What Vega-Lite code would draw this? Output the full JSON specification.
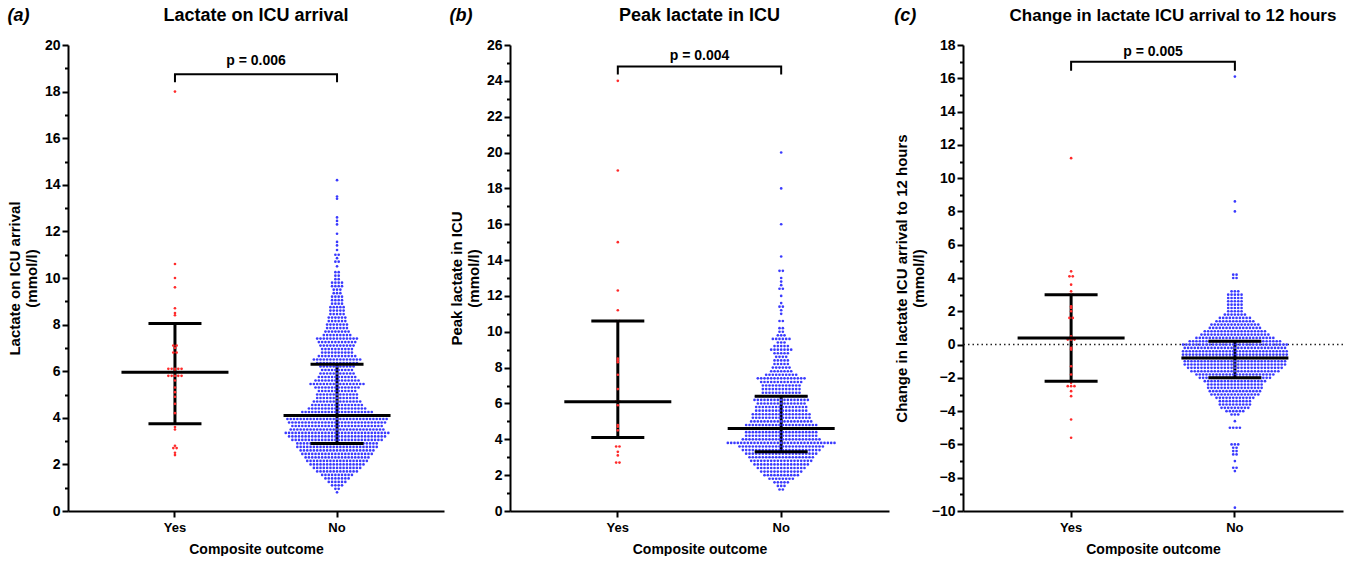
{
"$schema": "https://vega.github.io/schema/vega-lite/v6.json",
"padding": {"left": 7, "top": 7, "right": 0, "bottom": 0},
"spacing": 5,
"config": {
 "font": "Liberation Sans",
 "view": {"stroke": null},
 "axis": {"domainColor": "black", "domainWidth": 2, "tickColor": "black", "tickWidth": 2, "labelColor": "black", "labelFont": "Liberation Sans", "labelFontWeight": "bold", "labelOverlap": false, "titleFont": "Liberation Sans", "titleFontSize": 15, "titleFontWeight": "bold", "titleColor": "black", "grid": false},
 "axisX": {"labelFontSize": 13},
 "axisY": {"labelFontSize": 14},
 "tick": {"opacity": 1},
 "title": {"font": "Liberation Sans", "fontSize": 18, "fontWeight": "bold", "color": "black"}
},
"datasets": {
 "aYes": [18,10.6,10,9.6,8.7,8.5,8.4,7.1,7.1,7,6.8,6.8,6.1,6.1,6.1,6.1,6.1,6,5.8,5.8,5.8,5.8,5.8,5.6,5.3,5.1,4.9,4.6,4.2,3.6,3.5,2.8,2.7,2.7,2.5,2.4],
 "aNo": [0.8,
0.95,0.95,
1.1,1.1,1.1,1.1,
1.25,1.25,1.25,1.25,1.25, 1.25,
1.4,1.4,1.4,1.4,1.4, 1.4,1.4,1.4,
1.55,1.55,1.55,1.55,1.55, 1.55,1.55,1.55,1.55,1.55,
1.7,1.7,1.7,1.7,1.7, 1.7,1.7,1.7,1.7,1.7, 1.7,1.7,1.7,
1.85,1.85,1.85,1.85,1.85, 1.85,1.85,1.85,1.85,1.85, 1.85,1.85,1.85,1.85,1.85,
2,2,2,2,2, 2,2,2,2,2, 2,2,2,2,2, 2,2,
2.15,2.15,2.15,2.15,2.15, 2.15,2.15,2.15,2.15,2.15, 2.15,2.15,2.15,2.15,2.15, 2.15,2.15,2.15,2.15,
2.3,2.3,2.3,2.3,2.3, 2.3,2.3,2.3,2.3,2.3, 2.3,2.3,2.3,2.3,2.3, 2.3,2.3,2.3,2.3,2.3,
2.45,2.45,2.45,2.45,2.45, 2.45,2.45,2.45,2.45,2.45, 2.45,2.45,2.45,2.45,2.45, 2.45,2.45,2.45,2.45,2.45, 2.45,2.45,
2.6,2.6,2.6,2.6,2.6, 2.6,2.6,2.6,2.6,2.6, 2.6,2.6,2.6,2.6,2.6, 2.6,2.6,2.6,2.6,2.6, 2.6,2.6,2.6,
2.75,2.75,2.75,2.75,2.75, 2.75,2.75,2.75,2.75,2.75, 2.75,2.75,2.75,2.75,2.75, 2.75,2.75,2.75,2.75,2.75, 2.75,2.75,2.75,2.75,2.75,
2.9,2.9,2.9,2.9,2.9, 2.9,2.9,2.9,2.9,2.9, 2.9,2.9,2.9,2.9,2.9, 2.9,2.9,2.9,2.9,2.9, 2.9,2.9,2.9,2.9,2.9,
3.05,3.05,3.05,3.05,3.05, 3.05,3.05,3.05,3.05,3.05, 3.05,3.05,3.05,3.05,3.05, 3.05,3.05,3.05,3.05,3.05, 3.05,3.05,3.05,3.05,3.05, 3.05,3.05,3.05,
3.2,3.2,3.2,3.2,3.2, 3.2,3.2,3.2,3.2,3.2, 3.2,3.2,3.2,3.2,3.2, 3.2,3.2,3.2,3.2,3.2, 3.2,3.2,3.2,3.2,3.2, 3.2,3.2,3.2,3.2,3.2,
3.35,3.35,3.35,3.35,3.35, 3.35,3.35,3.35,3.35,3.35, 3.35,3.35,3.35,3.35,3.35, 3.35,3.35,3.35,3.35,3.35, 3.35,3.35,3.35,3.35,3.35, 3.35,3.35,3.35,3.35,3.35, 3.35,3.35,
3.5,3.5,3.5,3.5,3.5, 3.5,3.5,3.5,3.5,3.5, 3.5,3.5,3.5,3.5,3.5, 3.5,3.5,3.5,3.5,3.5, 3.5,3.5,3.5,3.5,3.5, 3.5,3.5,3.5,3.5,
3.65,3.65,3.65,3.65,3.65, 3.65,3.65,3.65,3.65,3.65, 3.65,3.65,3.65,3.65,3.65, 3.65,3.65,3.65,3.65,3.65, 3.65,3.65,3.65,3.65,3.65, 3.65,3.65,3.65,
3.8,3.8,3.8,3.8,3.8, 3.8,3.8,3.8,3.8,3.8, 3.8,3.8,3.8,3.8,3.8, 3.8,3.8,3.8,3.8,3.8, 3.8,3.8,3.8,3.8,3.8, 3.8,3.8,3.8,3.8,3.8,
3.95,3.95,3.95,3.95,3.95, 3.95,3.95,3.95,3.95,3.95, 3.95,3.95,3.95,3.95,3.95, 3.95,3.95,3.95,3.95,3.95, 3.95,3.95,3.95,3.95,3.95, 3.95,3.95,3.95,3.95,3.95, 3.95,
4.1,4.1,4.1,4.1,4.1, 4.1,4.1,4.1,4.1,4.1, 4.1,4.1,4.1,4.1,4.1, 4.1,4.1,4.1,4.1,4.1, 4.1,4.1,4.1,4.1,4.1, 4.1,
4.25,4.25,4.25,4.25,4.25, 4.25,4.25,4.25,4.25,4.25, 4.25,4.25,4.25,4.25,4.25, 4.25,4.25,4.25,4.25,4.25, 4.25,4.25,
4.4,4.4,4.4,4.4,4.4, 4.4,4.4,4.4,4.4,4.4, 4.4,4.4,4.4,4.4,4.4, 4.4,4.4,4.4,
4.55,4.55,4.55,4.55,4.55, 4.55,4.55,4.55,4.55,4.55, 4.55,4.55,4.55,4.55,4.55, 4.55,
4.7,4.7,4.7,4.7,4.7, 4.7,4.7,4.7,4.7,4.7, 4.7,4.7,4.7,4.7,4.7,
4.85,4.85,4.85,4.85,4.85, 4.85,4.85,4.85,4.85,4.85, 4.85,4.85,4.85,
5,5,5,5,5, 5,5,5,5,5, 5,5,5,
5.15,5.15,5.15,5.15,5.15, 5.15,5.15,5.15,5.15,5.15, 5.15,5.15,
5.3,5.3,5.3,5.3,5.3, 5.3,5.3,5.3,5.3,5.3, 5.3,5.3,5.3,5.3,
5.45,5.45,5.45,5.45,5.45, 5.45,5.45,5.45,5.45,5.45, 5.45,5.45,5.45,5.45,5.45, 5.45,5.45,
5.6,5.6,5.6,5.6,5.6, 5.6,5.6,5.6,5.6,5.6, 5.6,5.6,5.6,5.6,
5.75,5.75,5.75,5.75,5.75, 5.75,5.75,5.75,5.75,5.75, 5.75,5.75,
5.9,5.9,5.9,5.9,5.9, 5.9,5.9,5.9,5.9,5.9, 5.9,
6.05,6.05,6.05,6.05,6.05, 6.05,6.05,6.05,6.05,6.05,
6.2,6.2,6.2,6.2,6.2, 6.2,6.2,6.2,6.2,6.2, 6.2,
6.35,6.35,6.35,6.35,6.35, 6.35,6.35,6.35,6.35,6.35, 6.35,6.35,6.35,
6.5,6.5,6.5,6.5,6.5, 6.5,6.5,6.5,6.5,6.5, 6.5,6.5,6.5,6.5,6.5,
6.65,6.65,6.65,6.65,6.65, 6.65,6.65,6.65,6.65,6.65, 6.65,6.65,
6.8,6.8,6.8,6.8,6.8, 6.8,6.8,6.8,6.8,6.8,
6.95,6.95,6.95,6.95,6.95, 6.95,6.95,6.95,6.95,6.95,
7.1,7.1,7.1,7.1,7.1, 7.1,7.1,7.1,7.1,7.1, 7.1,
7.25,7.25,7.25,7.25,7.25, 7.25,7.25,7.25,7.25,7.25, 7.25,7.25,
7.4,7.4,7.4,7.4,7.4, 7.4,7.4,7.4,7.4,7.4, 7.4,7.4,7.4,
7.55,7.55,7.55,7.55,7.55, 7.55,7.55,7.55,7.55,
7.7,7.7,7.7,7.7,7.7, 7.7,7.7,7.7,
7.85,7.85,7.85,7.85,7.85, 7.85,7.85,
8,8,8,8,8, 8,8,
8.15,8.15,8.15,8.15,8.15, 8.15,
8.3,8.3,8.3,8.3,8.3, 8.3,
8.45,8.45,8.45,8.45,8.45,
8.6,8.6,8.6,8.6,8.6,
8.75,8.75,8.75,8.75,8.75,
8.9,8.9,8.9,8.9,
9.05,9.05,9.05,9.05,
9.2,9.2,9.2,9.2,
9.35,9.35,9.35,
9.5,9.5,9.5,
9.65,9.65,9.65,9.65,
9.8,9.8,9.8,9.8,
9.95,9.95,
10.1,10.1,
10.25,10.25,
10.5,10.7,10.7,10.85,11,11,11.2,11.4,11.55,11.9,12.3,12.45,12.6,13.4,13.5,14.2],
 "bYes": [24,19,15,12.3,11.2,10.6,10.6,8.5,8.4,8.3,7.6,6.8,6.1,6.1,5.9,4.8,4.7,4.5,3.6,3.6,3.3,3.1,2.7,2.7],
 "bNo": [1.2,1.2,
1.4,1.4,1.4,
1.6,1.6,1.6,1.6,1.6,
1.8,1.8,1.8,1.8,1.8, 1.8,1.8,1.8,
2,2,2,2,2, 2,2,2,2,2, 2,
2.2,2.2,2.2,2.2,2.2, 2.2,2.2,2.2,2.2,2.2, 2.2,2.2,2.2,
2.4,2.4,2.4,2.4,2.4, 2.4,2.4,2.4,2.4,2.4, 2.4,2.4,2.4,2.4,2.4,
2.6,2.6,2.6,2.6,2.6, 2.6,2.6,2.6,2.6,2.6, 2.6,2.6,2.6,2.6,2.6, 2.6,2.6,
2.8,2.8,2.8,2.8,2.8, 2.8,2.8,2.8,2.8,2.8, 2.8,2.8,2.8,2.8,2.8, 2.8,2.8,2.8,2.8,
3,3,3,3,3, 3,3,3,3,3, 3,3,3,3,3, 3,3,3,3,3,
3.2,3.2,3.2,3.2,3.2, 3.2,3.2,3.2,3.2,3.2, 3.2,3.2,3.2,3.2,3.2, 3.2,3.2,3.2,3.2,3.2, 3.2,3.2,
3.4,3.4,3.4,3.4,3.4, 3.4,3.4,3.4,3.4,3.4, 3.4,3.4,3.4,3.4,3.4, 3.4,3.4,3.4,3.4,3.4, 3.4,3.4,3.4,3.4,
3.6,3.6,3.6,3.6,3.6, 3.6,3.6,3.6,3.6,3.6, 3.6,3.6,3.6,3.6,3.6, 3.6,3.6,3.6,3.6,3.6, 3.6,3.6,3.6,3.6,3.6, 3.6,
3.8,3.8,3.8,3.8,3.8, 3.8,3.8,3.8,3.8,3.8, 3.8,3.8,3.8,3.8,3.8, 3.8,3.8,3.8,3.8,3.8, 3.8,3.8,3.8,3.8,3.8, 3.8,3.8,3.8,3.8,3.8, 3.8,3.8,3.8,
4,4,4,4,4, 4,4,4,4,4, 4,4,4,4,4, 4,4,4,4,4, 4,4,4,4,
4.2,4.2,4.2,4.2,4.2, 4.2,4.2,4.2,4.2,4.2, 4.2,4.2,4.2,4.2,4.2, 4.2,4.2,4.2,4.2,4.2, 4.2,4.2,
4.4,4.4,4.4,4.4,4.4, 4.4,4.4,4.4,4.4,4.4, 4.4,4.4,4.4,4.4,4.4, 4.4,4.4,4.4,4.4,4.4, 4.4,4.4,
4.6,4.6,4.6,4.6,4.6, 4.6,4.6,4.6,4.6,4.6, 4.6,4.6,4.6,4.6,4.6, 4.6,4.6,4.6,4.6,4.6, 4.6,4.6,4.6,4.6,4.6, 4.6,
4.8,4.8,4.8,4.8,4.8, 4.8,4.8,4.8,4.8,4.8, 4.8,4.8,4.8,4.8,4.8, 4.8,4.8,4.8,4.8,4.8, 4.8,4.8,
5,5,5,5,5, 5,5,5,5,5, 5,5,5,5,5, 5,5,5,5,
5.2,5.2,5.2,5.2,5.2, 5.2,5.2,5.2,5.2,5.2, 5.2,5.2,5.2,5.2,5.2, 5.2,5.2,5.2,
5.4,5.4,5.4,5.4,5.4, 5.4,5.4,5.4,5.4,5.4, 5.4,5.4,5.4,5.4,5.4, 5.4,5.4,5.4,
5.6,5.6,5.6,5.6,5.6, 5.6,5.6,5.6,5.6,5.6, 5.6,5.6,5.6,5.6,5.6, 5.6,
5.8,5.8,5.8,5.8,5.8, 5.8,5.8,5.8,5.8,5.8, 5.8,5.8,5.8,5.8,5.8, 5.8,
6,6,6,6,6, 6,6,6,6,6, 6,6,6,6,6,
6.2,6.2,6.2,6.2,6.2, 6.2,6.2,6.2,6.2,6.2, 6.2,6.2,6.2,6.2,6.2, 6.2,6.2,
6.4,6.4,6.4,6.4,6.4, 6.4,6.4,6.4,6.4,6.4, 6.4,6.4,6.4,6.4,6.4, 6.4,
6.6,6.6,6.6,6.6,6.6, 6.6,6.6,6.6,6.6,6.6, 6.6,6.6,
6.8,6.8,6.8,6.8,6.8, 6.8,6.8,6.8,6.8,6.8, 6.8,6.8,
7,7,7,7,7, 7,7,7,7,7, 7,7,
7.2,7.2,7.2,7.2,7.2, 7.2,7.2,7.2,7.2,7.2, 7.2,7.2,7.2,
7.4,7.4,7.4,7.4,7.4, 7.4,7.4,7.4,7.4,7.4, 7.4,7.4,7.4,7.4,7.4,
7.6,7.6,7.6,7.6,7.6, 7.6,7.6,7.6,7.6,7.6,
7.8,7.8,7.8,7.8,7.8, 7.8,7.8,
8,8,8,8,8, 8,
8.2,8.2,8.2,8.2,8.2,
8.4,8.4,8.4,8.4,8.4,
8.6,8.6,8.6,8.6,
8.8,8.8,8.8,8.8,8.8,
9,9,9,9,9, 9,9,
9.2,9.2,9.2,9.2,9.2,
9.4,9.4,9.4,
9.6,9.6,9.6,9.6,9.6, 9.6,
9.8,9.8,9.8,
10,10,
10.2,10.2,
10.6,10.6,
11,11.2,11.4,11.4,11.6,12,12.4,12.4,12.6,12.8,13,13.4,13.4,14.2,16,18,20],
 "cYes": [11.2,4.4,4.1,4.1,3.6,3.2,3,3,2.3,2.2,2,1.6,1.6,0.5,0.3,0.3,0.3,-0.2,-0.3,-1.3,-1.8,-2.3,-2.5,-2.5,-2.5,-2.8,-3.1,-4.5,-5.6],
 "cNo": [-9.8,-7.6,-7.4,-7.4,-7,-6.6,-6.6,-6.4,-6.4,-6.2,-6.2,-6,-6,-6,-5,-5,-5,-5,-4.6,-4.2,-4.2,-4.2,
-4,-4,-4,-4,-4, -4,
-3.8,-3.8,-3.8,-3.8,-3.8, -3.8,-3.8,-3.8,-3.8,
-3.6,-3.6,-3.6,-3.6,-3.6, -3.6,-3.6,-3.6,-3.6,-3.6,
-3.4,-3.4,-3.4,-3.4,-3.4, -3.4,-3.4,-3.4,-3.4,-3.4,
-3.2,-3.2,-3.2,-3.2,-3.2, -3.2,-3.2,-3.2,-3.2,-3.2, -3.2,-3.2,
-3,-3,-3,-3,-3, -3,-3,-3,-3,-3, -3,-3,-3,-3,-3,
-2.8,-2.8,-2.8,-2.8,-2.8, -2.8,-2.8,-2.8,-2.8,-2.8, -2.8,-2.8,-2.8,-2.8,-2.8, -2.8,
-2.6,-2.6,-2.6,-2.6,-2.6, -2.6,-2.6,-2.6,-2.6,-2.6, -2.6,-2.6,-2.6,-2.6,-2.6, -2.6,-2.6,
-2.4,-2.4,-2.4,-2.4,-2.4, -2.4,-2.4,-2.4,-2.4,-2.4, -2.4,-2.4,-2.4,-2.4,-2.4, -2.4,-2.4,
-2.2,-2.2,-2.2,-2.2,-2.2, -2.2,-2.2,-2.2,-2.2,-2.2, -2.2,-2.2,-2.2,-2.2,-2.2, -2.2,-2.2,-2.2,-2.2,
-2,-2,-2,-2,-2, -2,-2,-2,-2,-2, -2,-2,-2,-2,-2, -2,-2,-2,-2,-2, -2,-2,
-1.8,-1.8,-1.8,-1.8,-1.8, -1.8,-1.8,-1.8,-1.8,-1.8, -1.8,-1.8,-1.8,-1.8,-1.8, -1.8,-1.8,-1.8,-1.8,-1.8, -1.8,-1.8,-1.8,-1.8,
-1.6,-1.6,-1.6,-1.6,-1.6, -1.6,-1.6,-1.6,-1.6,-1.6, -1.6,-1.6,-1.6,-1.6,-1.6, -1.6,-1.6,-1.6,-1.6,-1.6, -1.6,-1.6,-1.6,-1.6,-1.6, -1.6,-1.6,
-1.4,-1.4,-1.4,-1.4,-1.4, -1.4,-1.4,-1.4,-1.4,-1.4, -1.4,-1.4,-1.4,-1.4,-1.4, -1.4,-1.4,-1.4,-1.4,-1.4, -1.4,-1.4,-1.4,-1.4,-1.4, -1.4,-1.4,-1.4,-1.4,
-1.2,-1.2,-1.2,-1.2,-1.2, -1.2,-1.2,-1.2,-1.2,-1.2, -1.2,-1.2,-1.2,-1.2,-1.2, -1.2,-1.2,-1.2,-1.2,-1.2, -1.2,-1.2,-1.2,-1.2,-1.2, -1.2,-1.2,-1.2,-1.2,-1.2, -1.2,
-1,-1,-1,-1,-1, -1,-1,-1,-1,-1, -1,-1,-1,-1,-1, -1,-1,-1,-1,-1, -1,-1,-1,-1,-1, -1,-1,-1,-1,-1, -1,
-0.8,-0.8,-0.8,-0.8,-0.8, -0.8,-0.8,-0.8,-0.8,-0.8, -0.8,-0.8,-0.8,-0.8,-0.8, -0.8,-0.8,-0.8,-0.8,-0.8, -0.8,-0.8,-0.8,-0.8,-0.8, -0.8,-0.8,-0.8,-0.8,-0.8, -0.8,-0.8,
-0.6,-0.6,-0.6,-0.6,-0.6, -0.6,-0.6,-0.6,-0.6,-0.6, -0.6,-0.6,-0.6,-0.6,-0.6, -0.6,-0.6,-0.6,-0.6,-0.6, -0.6,-0.6,-0.6,-0.6,-0.6, -0.6,-0.6,-0.6,-0.6,-0.6, -0.6,-0.6,
-0.4,-0.4,-0.4,-0.4,-0.4, -0.4,-0.4,-0.4,-0.4,-0.4, -0.4,-0.4,-0.4,-0.4,-0.4, -0.4,-0.4,-0.4,-0.4,-0.4, -0.4,-0.4,-0.4,-0.4,-0.4, -0.4,-0.4,-0.4,-0.4,-0.4, -0.4,-0.4,
-0.2,-0.2,-0.2,-0.2,-0.2, -0.2,-0.2,-0.2,-0.2,-0.2, -0.2,-0.2,-0.2,-0.2,-0.2, -0.2,-0.2,-0.2,-0.2,-0.2, -0.2,-0.2,-0.2,-0.2,-0.2, -0.2,-0.2,-0.2,-0.2,-0.2, -0.2,
0,0,0,0,0, 0,0,0,0,0, 0,0,0,0,0, 0,0,0,0,0, 0,0,0,0,0, 0,0,0,0,0, 0,0,
0.2,0.2,0.2,0.2,0.2, 0.2,0.2,0.2,0.2,0.2, 0.2,0.2,0.2,0.2,0.2, 0.2,0.2,0.2,0.2,0.2, 0.2,0.2,0.2,0.2,0.2, 0.2,0.2,0.2,
0.4,0.4,0.4,0.4,0.4, 0.4,0.4,0.4,0.4,0.4, 0.4,0.4,0.4,0.4,0.4, 0.4,0.4,0.4,0.4,0.4, 0.4,0.4,0.4,0.4,
0.6,0.6,0.6,0.6,0.6, 0.6,0.6,0.6,0.6,0.6, 0.6,0.6,0.6,0.6,0.6, 0.6,0.6,0.6,0.6,0.6, 0.6,
0.8,0.8,0.8,0.8,0.8, 0.8,0.8,0.8,0.8,0.8, 0.8,0.8,0.8,0.8,0.8, 0.8,0.8,0.8,0.8,
1,1,1,1,1, 1,1,1,1,1, 1,1,1,1,1, 1,
1.2,1.2,1.2,1.2,1.2, 1.2,1.2,1.2,1.2,1.2, 1.2,1.2,1.2,1.2,1.2,
1.4,1.4,1.4,1.4,1.4, 1.4,1.4,1.4,1.4,1.4, 1.4,1.4,
1.6,1.6,1.6,1.6,1.6, 1.6,1.6,1.6,1.6,1.6,
1.8,1.8,1.8,1.8,1.8, 1.8,1.8,
2,2,2,2,2,
2.2,2.2,2.2,2.2,2.2,
2.4,2.4,2.4,2.4,2.4,
2.6,2.6,2.6,2.6,2.6,
2.8,2.8,2.8,2.8,2.8,
3,3,3,3,3,
3.2,3.2,3.2,
4,4,4.2,4.2,8,8.6,16.1],
 "aStats": [{"g": "Yes", "med": 5.95, "q1": 3.75, "q3": 8.05}, {"g": "No", "med": 4.1, "q1": 2.9, "q3": 6.3}],
 "bStats": [{"g": "Yes", "med": 6.1, "q1": 4.1, "q3": 10.6}, {"g": "No", "med": 4.6, "q1": 3.3, "q3": 6.4}],
 "cStats": [{"g": "Yes", "med": 0.4, "q1": -2.2, "q3": 3.0}, {"g": "No", "med": -0.8, "q1": -2.0, "q3": 0.2}],
 "aBracket": [{"g": "Yes", "y": 18.4, "o": 0}, {"g": "Yes", "y": 18.75, "o": 1}, {"g": "No", "y": 18.75, "o": 2}, {"g": "No", "y": 18.4, "o": 3}],
 "bBracket": [{"g": "Yes", "y": 24.35, "o": 0}, {"g": "Yes", "y": 24.8, "o": 1}, {"g": "No", "y": 24.8, "o": 2}, {"g": "No", "y": 24.35, "o": 3}],
 "cBracket": [{"g": "Yes", "y": 16.45, "o": 0}, {"g": "Yes", "y": 17.0, "o": 1}, {"g": "No", "y": 17.0, "o": 2}, {"g": "No", "y": 16.45, "o": 3}]
},
"hconcat": [
 {
  "title": {"text": "(a)", "anchor": "start", "frame": "bounds", "fontSize": 18, "fontStyle": "italic", "fontWeight": "bold", "offset": -18},
  "vconcat": [{
   "title": {"text": "Lactate on ICU arrival", "anchor": "middle", "offset": 13},
   "width": 376, "height": 466,
   "resolve": {"scale": {"xOffset": "independent"}},
   "layer": [
    {"data": {"name": "aStats"}, "mark": {"type": "rule", "strokeWidth": 3, "color": "black"},
     "encoding": {
      "x": {"field": "g", "type": "nominal", "scale": {"domain": ["Yes", "No"], "paddingInner": 0, "paddingOuter": 0.16}, "axis": {"title": "Composite outcome", "labelAngle": 0, "tickSize": 6, "labelPadding": 4, "titlePadding": 8, "titleFontSize": 14}},
      "y": {"field": "q1", "type": "quantitative", "scale": {"domain": [0, 20], "nice": false, "zero": false}, "axis": {"values": [0,1,2,3,4,5,6,7,8,9,10,11,12,13,14,15,16,17,18,19,20], "tickCount": 100, "format": "d", "labelOverlap": false, "labelExpr": "datum.value % 2 === 0 ? datum.label : ''", "tickSize": {"condition": {"test": "datum.value % 2 !== 0", "value": 3.5}, "value": 6}, "labelPadding": 2, "title": ["Lactate on ICU arrival", "(mmol/l)"], "titlePadding": 5, "titleLineHeight": 17}},
      "y2": {"field": "q3"}
     }},
    {"data": {"name": "aYes"},
     "transform": [{"window": [{"op": "count", "as": "one"}], "frame": [0, 0]}, {"stack": "one", "groupby": ["data"], "offset": "center", "as": ["s0", "s1"]}],
     "mark": {"type": "circle", "size": 7, "color": "#ff2a2a", "opacity": 1},
     "encoding": {
      "x": {"datum": "Yes", "type": "nominal"},
      "xOffset": {"field": "s0", "type": "quantitative", "scale": {"domain": [-22.5, 26.5], "zero": false, "nice": false}},
      "y": {"field": "data", "type": "quantitative"}
     }},
    {"data": {"name": "aNo"},
     "transform": [{"window": [{"op": "count", "as": "one"}], "frame": [0, 0]}, {"stack": "one", "groupby": ["data"], "offset": "center", "as": ["s0", "s1"]}],
     "mark": {"type": "circle", "size": 7, "color": "#3a3aff", "opacity": 1},
     "encoding": {
      "x": {"datum": "No", "type": "nominal"},
      "xOffset": {"field": "s0", "type": "quantitative", "scale": {"domain": [-9, 40], "zero": false, "nice": false}},
      "y": {"field": "data", "type": "quantitative"}
     }},
    {"data": {"name": "aStats"}, "mark": {"type": "tick", "orient": "horizontal", "size": 107, "thickness": 3, "color": "black", "opacity": 1},
     "encoding": {"x": {"field": "g", "type": "nominal"}, "y": {"field": "med", "type": "quantitative"}}},
    {"data": {"name": "aStats"}, "mark": {"type": "tick", "orient": "horizontal", "size": 53, "thickness": 3, "color": "black", "opacity": 1},
     "encoding": {"x": {"field": "g", "type": "nominal"}, "y": {"field": "q1", "type": "quantitative"}}},
    {"data": {"name": "aStats"}, "mark": {"type": "tick", "orient": "horizontal", "size": 53, "thickness": 3, "color": "black", "opacity": 1},
     "encoding": {"x": {"field": "g", "type": "nominal"}, "y": {"field": "q3", "type": "quantitative"}}},
    {"data": {"name": "aBracket"}, "mark": {"type": "line", "color": "black", "strokeWidth": 2},
     "encoding": {"x": {"field": "g", "type": "nominal"}, "y": {"field": "y", "type": "quantitative"}, "order": {"field": "o", "type": "quantitative"}}},
    {"data": {"values": [{"label": "p = 0.006", "y": 19.3}]}, "mark": {"type": "text", "fontSize": 14, "fontWeight": "bold", "font": "Liberation Sans", "color": "black"},
     "encoding": {"text": {"field": "label"}, "y": {"field": "y", "type": "quantitative"}}}
   ]
  }]
 },
 {
  "title": {"text": "(b)", "anchor": "start", "frame": "bounds", "fontSize": 18, "fontStyle": "italic", "fontWeight": "bold", "offset": -18},
  "vconcat": [{
   "title": {"text": "Peak lactate in ICU", "anchor": "middle", "offset": 13},
   "width": 379, "height": 466,
   "resolve": {"scale": {"xOffset": "independent"}},
   "layer": [
    {"data": {"name": "bStats"}, "mark": {"type": "rule", "strokeWidth": 3, "color": "black"},
     "encoding": {
      "x": {"field": "g", "type": "nominal", "scale": {"domain": ["Yes", "No"], "paddingInner": 0, "paddingOuter": 0.16}, "axis": {"title": "Composite outcome", "labelAngle": 0, "tickSize": 6, "labelPadding": 4, "titlePadding": 8, "titleFontSize": 14}},
      "y": {"field": "q1", "type": "quantitative", "scale": {"domain": [0, 26], "nice": false, "zero": false}, "axis": {"values": [0,1,2,3,4,5,6,7,8,9,10,11,12,13,14,15,16,17,18,19,20,21,22,23,24,25,26], "tickCount": 100, "format": "d", "labelOverlap": false, "labelExpr": "datum.value % 2 === 0 ? datum.label : ''", "tickSize": {"condition": {"test": "datum.value % 2 !== 0", "value": 3.5}, "value": 6}, "labelPadding": 2, "title": ["Peak lactate in ICU", "(mmol/l)"], "titlePadding": 5, "titleLineHeight": 17}},
      "y2": {"field": "q3"}
     }},
    {"data": {"name": "bYes"},
     "transform": [{"window": [{"op": "count", "as": "one"}], "frame": [0, 0]}, {"stack": "one", "groupby": ["data"], "offset": "center", "as": ["s0", "s1"]}],
     "mark": {"type": "circle", "size": 7, "color": "#ff2a2a", "opacity": 1},
     "encoding": {
      "x": {"datum": "Yes", "type": "nominal"},
      "xOffset": {"field": "s0", "type": "quantitative", "scale": {"domain": [-24, 25], "zero": false, "nice": false}},
      "y": {"field": "data", "type": "quantitative"}
     }},
    {"data": {"name": "bNo"},
     "transform": [{"window": [{"op": "count", "as": "one"}], "frame": [0, 0]}, {"stack": "one", "groupby": ["data"], "offset": "center", "as": ["s0", "s1"]}],
     "mark": {"type": "circle", "size": 7, "color": "#3a3aff", "opacity": 1},
     "encoding": {
      "x": {"datum": "No", "type": "nominal"},
      "xOffset": {"field": "s0", "type": "quantitative", "scale": {"domain": [-8.5, 40.5], "zero": false, "nice": false}},
      "y": {"field": "data", "type": "quantitative"}
     }},
    {"data": {"name": "bStats"}, "mark": {"type": "tick", "orient": "horizontal", "size": 107, "thickness": 3, "color": "black", "opacity": 1},
     "encoding": {"x": {"field": "g", "type": "nominal"}, "y": {"field": "med", "type": "quantitative"}}},
    {"data": {"name": "bStats"}, "mark": {"type": "tick", "orient": "horizontal", "size": 53, "thickness": 3, "color": "black", "opacity": 1},
     "encoding": {"x": {"field": "g", "type": "nominal"}, "y": {"field": "q1", "type": "quantitative"}}},
    {"data": {"name": "bStats"}, "mark": {"type": "tick", "orient": "horizontal", "size": 53, "thickness": 3, "color": "black", "opacity": 1},
     "encoding": {"x": {"field": "g", "type": "nominal"}, "y": {"field": "q3", "type": "quantitative"}}},
    {"data": {"name": "bBracket"}, "mark": {"type": "line", "color": "black", "strokeWidth": 2},
     "encoding": {"x": {"field": "g", "type": "nominal"}, "y": {"field": "y", "type": "quantitative"}, "order": {"field": "o", "type": "quantitative"}}},
    {"data": {"values": [{"label": "p = 0.004", "y": 25.4}]}, "mark": {"type": "text", "fontSize": 14, "fontWeight": "bold", "font": "Liberation Sans", "color": "black"},
     "encoding": {"text": {"field": "label"}, "y": {"field": "y", "type": "quantitative"}}}
   ]
  }]
 },
 {
  "title": {"text": "(c)", "anchor": "start", "frame": "bounds", "fontSize": 18, "fontStyle": "italic", "fontWeight": "bold", "offset": -18},
  "vconcat": [{
   "title": {"text": "Change in lactate ICU arrival to 12 hours", "anchor": "middle", "offset": 13, "dx": 20, "fontSize": 17},
   "width": 380, "height": 466,
   "resolve": {"scale": {"xOffset": "independent"}},
   "layer": [
    {"data": {"values": [{"ref": 0}]}, "mark": {"type": "rule", "strokeDash": [1.5, 3], "strokeWidth": 1.5, "color": "#222222"},
     "encoding": {"y": {"field": "ref", "type": "quantitative"}}},
    {"data": {"name": "cStats"}, "mark": {"type": "rule", "strokeWidth": 3, "color": "black"},
     "encoding": {
      "x": {"field": "g", "type": "nominal", "scale": {"domain": ["Yes", "No"], "paddingInner": 0, "paddingOuter": 0.16}, "axis": {"title": "Composite outcome", "labelAngle": 0, "tickSize": 6, "labelPadding": 4, "titlePadding": 8, "titleFontSize": 14}},
      "y": {"field": "q1", "type": "quantitative", "scale": {"domain": [-10, 18], "nice": false, "zero": false}, "axis": {"values": [-10,-9,-8,-7,-6,-5,-4,-3,-2,-1,0,1,2,3,4,5,6,7,8,9,10,11,12,13,14,15,16,17,18], "tickCount": 100, "format": "d", "labelOverlap": false, "labelExpr": "datum.value % 2 === 0 ? datum.label : ''", "tickSize": {"condition": {"test": "datum.value % 2 !== 0", "value": 3.5}, "value": 6}, "labelPadding": 2, "title": ["Change in lactate ICU arrival to 12 hours", "(mmol/l)"], "titlePadding": 5, "titleLineHeight": 17}},
      "y2": {"field": "q3"}
     }},
    {"data": {"name": "cYes"},
     "transform": [{"window": [{"op": "count", "as": "one"}], "frame": [0, 0]}, {"stack": "one", "groupby": ["data"], "offset": "center", "as": ["s0", "s1"]}],
     "mark": {"type": "circle", "size": 7, "color": "#ff2a2a", "opacity": 1},
     "encoding": {
      "x": {"datum": "Yes", "type": "nominal"},
      "xOffset": {"field": "s0", "type": "quantitative", "scale": {"domain": [-23.5, 25.5], "zero": false, "nice": false}},
      "y": {"field": "data", "type": "quantitative"}
     }},
    {"data": {"name": "cNo"},
     "transform": [{"window": [{"op": "count", "as": "one"}], "frame": [0, 0]}, {"stack": "one", "groupby": ["data"], "offset": "center", "as": ["s0", "s1"]}],
     "mark": {"type": "circle", "size": 7, "color": "#3a3aff", "opacity": 1},
     "encoding": {
      "x": {"datum": "No", "type": "nominal"},
      "xOffset": {"field": "s0", "type": "quantitative", "scale": {"domain": [-9, 40], "zero": false, "nice": false}},
      "y": {"field": "data", "type": "quantitative"}
     }},
    {"data": {"name": "cStats"}, "mark": {"type": "tick", "orient": "horizontal", "size": 107, "thickness": 3, "color": "black", "opacity": 1},
     "encoding": {"x": {"field": "g", "type": "nominal"}, "y": {"field": "med", "type": "quantitative"}}},
    {"data": {"name": "cStats"}, "mark": {"type": "tick", "orient": "horizontal", "size": 53, "thickness": 3, "color": "black", "opacity": 1},
     "encoding": {"x": {"field": "g", "type": "nominal"}, "y": {"field": "q1", "type": "quantitative"}}},
    {"data": {"name": "cStats"}, "mark": {"type": "tick", "orient": "horizontal", "size": 53, "thickness": 3, "color": "black", "opacity": 1},
     "encoding": {"x": {"field": "g", "type": "nominal"}, "y": {"field": "q3", "type": "quantitative"}}},
    {"data": {"name": "cBracket"}, "mark": {"type": "line", "color": "black", "strokeWidth": 2},
     "encoding": {"x": {"field": "g", "type": "nominal"}, "y": {"field": "y", "type": "quantitative"}, "order": {"field": "o", "type": "quantitative"}}},
    {"data": {"values": [{"label": "p = 0.005", "y": 17.55}]}, "mark": {"type": "text", "fontSize": 14, "fontWeight": "bold", "font": "Liberation Sans", "color": "black"},
     "encoding": {"text": {"field": "label"}, "y": {"field": "y", "type": "quantitative"}}}
   ]
  }]
 }
]
}
